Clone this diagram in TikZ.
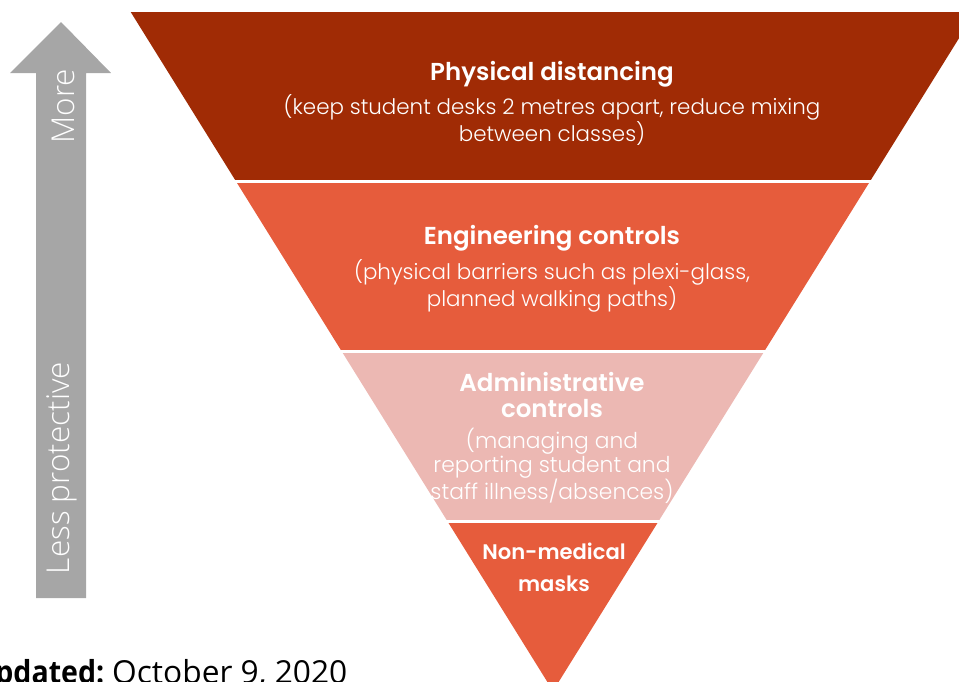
\documentclass[tikz,border=0pt]{standalone}
\usepackage{fontspec}
\setmainfont{Poppins}
\newfontfamily\poplight{Poppins Light}
\newfontfamily\popsemi{Poppins SemiBold}
\newfontfamily\osans{Open Sans}
\newfontfamily\oslight{Open Sans Light}
\definecolor{rust}{RGB}{160,43,5}
\definecolor{flame}{RGB}{230,92,60}
\definecolor{blush}{RGB}{236,184,179}
\definecolor{arrowgray}{RGB}{166,166,166}
\tikzset{
  band/.style={draw=none},
  sep/.style={draw=white,line width=3pt},
  title/.style={text=white,align=center,font=\popsemi\fontsize{24.5}{26}\selectfont,inner sep=0pt},
  sub/.style={text=white,align=center,font=\poplight\fontsize{21.4}{24}\selectfont,inner sep=0pt},
  side/.style={text=white,font=\oslight\fontsize{31.5}{34}\selectfont,rotate=90,inner sep=0pt},
}
\begin{document}
\begin{tikzpicture}[x=1pt,y=-1pt]
\useasboundingbox (0,0) rectangle (959,681);
% coordinates of band edges
\coordinate (apex) at (553,691);
\coordinate (l0) at (130.7,12);  \coordinate (r0) at (975.3,12);
\coordinate (l1) at (236.1,181.5); \coordinate (r1) at (869.9,181.5);
\coordinate (l2) at (341.8,351.5); \coordinate (r2) at (764.2,351.5);
\coordinate (l3) at (447.6,521.5); \coordinate (r3) at (658.4,521.5);
% bands
\fill[band,rust] (l0) -- (r0) -- (r1) -- (l1) -- cycle;
\fill[band,flame] (l1) -- (r1) -- (r2) -- (l2) -- cycle;
\fill[band,blush] (l2) -- (r2) -- (r3) -- (l3) -- cycle;
\fill[band,flame] (l3) -- (r3) -- (apex) -- cycle;
\draw[sep] ([xshift=-5pt]l1) -- ([xshift=5pt]r1);
\draw[sep] ([xshift=-5pt]l2) -- ([xshift=5pt]r2);
\draw[sep] ([xshift=-5pt]l3) -- ([xshift=5pt]r3);
% texts
\node[title] (t1) at (552,74) {Physical distancing};
\node[sub] (s1) at (552,120) {(keep student desks 2 metres apart, reduce mixing\\between classes)};
\node[title] (t2) at (552,238) {Engineering controls};
\node[sub] (s2) at (552,286) {(physical barriers such as plexi-glass,\\planned walking paths)};
\node[title] (t3) at (552,395) {Administrative\\controls};
\node[sub,font=\poplight\fontsize{21.8}{23.5}\selectfont] (s3) at (552,466) {(managing and\\reporting student and\\staff illness/absences)};
\node[title,font=\popsemi\fontsize{21.1}{32}\selectfont] (t4) at (554,567) {Non-medical\\masks};
% arrow
\fill[arrowgray] (36,598) -- (36,73) -- (10,73) -- (61,22) -- (111,73) -- (86,73) -- (86,598) -- cycle;
\node[side] (more) at (63,106) {More};
\node[side] (less) at (62,468) {Less protective};
% footer
\node[anchor=base west,inner sep=0pt,font=\osans\fontsize{31.7}{34}\selectfont] (upd) at (112,683)
  {\llap{\scalebox{0.9}[1]{\bfseries Updated:}\hspace{8pt}}October 9, 2020};
\end{tikzpicture}
\end{document}
